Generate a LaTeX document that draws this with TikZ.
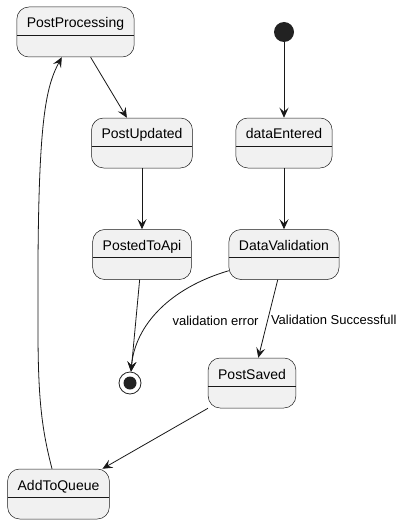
\documentclass[tikz,border=0pt]{standalone}
\usepackage{fontspec}
\setmainfont{Liberation Sans}
\usetikzlibrary{arrows.meta,positioning}
\definecolor{umlfill}{HTML}{F1F1F1}
\definecolor{umlline}{HTML}{181818}
\definecolor{umldark}{HTML}{222222}
\tikzset{
  state/.style    = {rectangle,draw=umlline,fill=umlfill,line width=0.5pt,rounded corners=12pt,
                     font=\fontsize{14}{16}\selectfont,inner xsep=10pt,inner ysep=10pt,
                     text height=11pt,text depth=19pt,
                     path picture={\draw[umlline,line width=0.5pt]
                       ([yshift=-28pt]path picture bounding box.north west) --
                       ([yshift=-28pt]path picture bounding box.north east);}},
  startpt/.style  = {circle,fill=umldark,minimum size=20pt,inner sep=0pt},
  endpt/.style    = {circle,draw=umldark,fill=white,line width=0.8pt,minimum size=22pt,inner sep=0pt,
                     path picture={\fill[umldark] (path picture bounding box.center) circle (6.5pt);}},
  flow/.style     = {-{Stealth[length=10pt,width=9pt,inset=4pt]},draw=umlline,line width=0.8pt},
  lbl/.style      = {font=\fontsize{13}{15}\selectfont,inner sep=3pt},
}
\begin{document}
\begin{tikzpicture}[x=1pt,y=-1pt,node distance=61pt]
\useasboundingbox (0,0) rectangle (404,524);
\node[startpt] (start)   at (284,32)    {};
\node[state]   (proc)    at (75.5,32)   {PostProcessing};
\node[state]   (updated) at (142,143)   {PostUpdated};
\node[state]   (entered) at (284,143)   {dataEntered};
\node[state]   (posted)  [below=of updated] {PostedToApi};
\node[state]   (valid)   [below=of entered] {DataValidation};
\node[endpt]   (stop)    at (130,383)   {};
\node[state]   (saved)   at (252,383)   {PostSaved};
\node[state]   (queue)   at (58.5,494)  {AddToQueue};
\draw[flow] (start) -- (entered);
\draw[flow] (entered) -- (valid);
\draw[flow] (proc) -- (updated);
\draw[flow] (updated) -- (posted);
\draw[flow] (posted) -- (stop);
\draw[flow] (valid) .. controls (170,288) and (135,325) .. node[lbl,pos=0.6,anchor=west,xshift=19pt]{validation error} (stop);
\draw[flow] (valid) -- node[lbl,pos=0.52,right]{Validation Successfull} (saved);
\draw[flow] (saved) -- (queue);
\draw[flow] (queue) .. controls (42,430) and (38,400) .. (38,330)
                    .. controls (37,130) and (44,90) .. (proc);
\end{tikzpicture}
\end{document}
